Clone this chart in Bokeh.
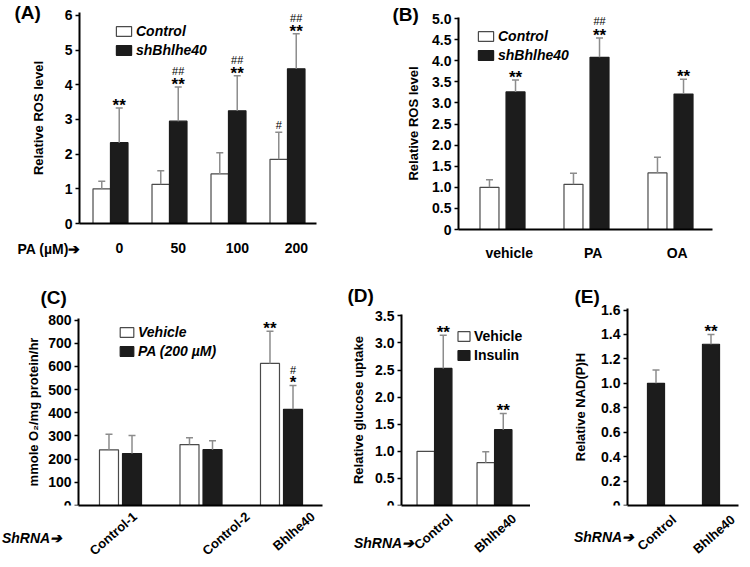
from bokeh.plotting import figure
from bokeh.layouts import column, row
from bokeh.models import (ColumnDataSource, Whisker, TeeHead, LabelSet, Label,
                          Legend, LegendItem, FixedTicker, Range1d, LinearAxis)
from bokeh.core.properties import value
from bokeh.embed import file_html
from bokeh.resources import INLINE

FONT = "Liberation Sans"
WHITE_LINE = "#4a4a4a"
BLACK = "#1c1c1c"
ERR = "#8c8c8c"
ARROW = "\u2794"
EM, EN = "\u2003", "\u2002"

# ---------------- data ----------------
A_doses = ["0", "50", "100", "200"]
A_ctrl = [1.00, 1.13, 1.43, 1.85]
A_ctrl_err = [0.22, 0.39, 0.61, 0.78]
A_sh = [2.33, 2.95, 3.25, 4.46]
A_sh_err = [1.00, 0.99, 1.01, 1.01]
A_ctrl_star = ["", "", "", ""]
A_ctrl_hash = ["", "", "", "#"]
A_sh_star = ["**", "**", "**", "**"]
A_sh_hash = ["", "##", "##", "##"]

B_treat = ["vehicle", "PA", "OA"]
B_ctrl = [1.00, 1.07, 1.34]
B_ctrl_err = [0.18, 0.26, 0.37]
B_sh = [3.26, 4.08, 3.21]
B_sh_err = [0.28, 0.46, 0.35]
B_ctrl_star = ["", "", ""]
B_ctrl_hash = ["", "", ""]
B_sh_star = ["**", "**", "**"]
B_sh_hash = ["", "##", ""]

C_shrna = ["Control-1", "Control-2", "Bhlhe40"]
C_veh = [240, 263, 613]
C_veh_err = [67, 29, 139]
C_pa = [224, 241, 415]
C_pa_err = [78, 38, 103]
C_veh_star = ["", "", "**"]
C_veh_hash = ["", "", ""]
C_pa_star = ["", "", "*"]
C_pa_hash = ["", "", "#"]

D_shrna = ["Control", "Bhlhe40"]
D_veh = [1.00, 0.79]
D_veh_err = [0.0, 0.20]
D_ins = [2.53, 1.40]
D_ins_err = [0.61, 0.30]
D_veh_star = ["", ""]
D_ins_star = ["**", "**"]

E_shrna = ["Control", "Bhlhe40"]
E_val = [1.00, 1.32]
E_err = [0.11, 0.08]
E_star = ["", "**"]


def style_axis(ax, size="14px"):
    ax.axis_line_width = 2
    ax.axis_line_color = "black"
    ax.minor_tick_line_color = None
    ax.major_label_text_font = FONT
    ax.major_label_text_font_style = "bold"
    ax.major_label_text_font_size = size
    ax.major_label_text_color = "black"
    ax.axis_label_text_font = FONT
    ax.axis_label_text_font_style = "bold"
    ax.axis_label_text_font_size = "13px"
    ax.axis_label_text_color = "black"


def make_panel(ox, oy, W, H, axis_px, end_px, g0_px, kx, y0_px, ky, ytop,
               normal_x=False, frame_left=None):
    """Frame covers the canvas (except, optionally, a bottom strip for a normal
    x axis and a small left strip); the y axis is pinned with fixed_location."""
    fl = ox if frame_left is None else frame_left
    xr = ((fl - g0_px) / kx, (ox + W - g0_px) / kx)
    if normal_x:
        yr = (0, (y0_px - oy) / ky)
        fb = y0_px
    else:
        yr = ((y0_px - (oy + H)) / ky, (y0_px - oy) / ky)
        fb = oy + H
    p = figure(width=W, height=H, x_range=Range1d(*xr), y_range=Range1d(*yr),
               output_backend="svg", toolbar_location=None,
               min_border_left=fl - ox, min_border_right=0,
               min_border_top=0, min_border_bottom=oy + H - fb)
    p.outline_line_color = None
    p.xgrid.visible = False
    p.ygrid.visible = False
    p.background_fill_color = "white"
    p.border_fill_color = "white"
    xs = (axis_px - g0_px) / kx
    xe = (end_px - g0_px) / kx
    style_axis(p.xaxis[0])
    style_axis(p.yaxis[0])
    if not normal_x:
        p.xaxis.fixed_location = 0
    p.xaxis.bounds = (xs, xe)
    p.yaxis.fixed_location = xs
    p.yaxis.bounds = (0, ytop)
    p.yaxis.major_tick_out = 4
    p.yaxis.major_tick_in = 0
    p.yaxis.major_tick_line_width = 1.5
    p.yaxis.major_label_standoff = 3
    p.xaxis.major_tick_out = 0
    p.xaxis.major_tick_in = 0
    return p, (fl, fb, g0_px, kx)


def bars(p, xs, vals, errs, width, fill, stars, hashes, star_off=-3, hash_off=(3, 12)):
    line = WHITE_LINE if fill == "white" else BLACK
    src = ColumnDataSource(dict(x=xs, top=vals))
    r = p.vbar(x="x", top="top", bottom=0, width=width, source=src,
               fill_color=fill, line_color=line, line_width=1.2)
    ex = [x for x, e in zip(xs, errs) if e > 0]
    lo = [v for v, e in zip(vals, errs) if e > 0]
    hi = [v + e for v, e in zip(vals, errs) if e > 0]
    if ex:
        wsrc = ColumnDataSource(dict(x=ex, lower=lo, upper=hi))
        w = Whisker(source=wsrc, base="x", lower="lower", upper="upper",
                    line_color=ERR, line_width=1.5, level="overlay",
                    upper_head=TeeHead(size=7, line_color=ERR, line_width=1.5),
                    lower_head=None)
        p.add_layout(w)
    ups = [v + e for v, e in zip(vals, errs)]
    ssrc = ColumnDataSource(dict(x=xs, y=ups, t=stars))
    p.add_layout(LabelSet(x="x", y="y", text="t", source=ssrc, y_offset=star_off,
                          text_align="center", text_baseline="alphabetic",
                          text_font=value(FONT), text_font_style="bold",
                          text_font_size="17px", text_color="black"))
    if hashes is not None:
        hoff = [hash_off[1] if s else hash_off[0] for s in stars]
        hsrc = ColumnDataSource(dict(x=xs, y=ups, t=hashes, o=hoff))
        p.add_layout(LabelSet(x="x", y="y", text="t", source=hsrc, y_offset="o",
                              text_align="center", text_baseline="alphabetic",
                              text_font=value(FONT), text_font_style="normal",
                              text_font_size="11px", text_color="black"))
    return r


def legend(p, geo, items, left_px, top_px, italic=True, gw=19):
    fl, fb = geo[:2]
    item_h, spacing = 17, 3
    bottom_px = top_px + len(items) * item_h + (len(items) - 1) * spacing
    lg = Legend(items=[LegendItem(label=l, renderers=[r]) for l, r in items],
                location=(left_px - fl, fb - bottom_px), orientation="vertical",
                glyph_width=gw, glyph_height=12, label_height=14,
                label_standoff=3, spacing=spacing, padding=0, margin=0,
                border_line_color=None, background_fill_alpha=0,
                label_text_font=FONT,
                label_text_font_style="bold italic" if italic else "bold",
                label_text_font_size="14px", label_text_color="black")
    p.add_layout(lg, "center")


def txt(p, geo, px, py, text, size="19px", style="bold"):
    fl, fb = geo[:2]
    p.add_layout(Label(x=px - fl, y=fb - py, x_units="screen", y_units="screen",
                       text=text, text_font=FONT, text_font_style=style,
                       text_font_size=size, text_align="left",
                       text_baseline="middle", text_color="black"))


def slanted_ticks(p, labels, offsets, standoff):
    ticks = [i + o for i, o in enumerate(offsets)]
    p.xaxis.ticker = FixedTicker(ticks=ticks)
    p.xaxis.major_label_overrides = {t: l for t, l in zip(ticks, labels)}
    p.xaxis.major_label_orientation = 0.72
    p.xaxis.major_label_text_font_size = "13px"
    p.xaxis.major_label_standoff = standoff


def shrna_axis(p, geo, right_px, standoff, pad=""):
    """'ShRNA ->' caption carried by a bare extra axis under the category axis,
    anchored at the frame's left edge."""
    fl, fb, g0, kx = geo
    ax = LinearAxis(ticker=FixedTicker(ticks=[]), axis_line_color=None,
                    major_tick_line_color=None, minor_tick_line_color=None,
                    bounds=((fl - g0) / kx, (right_px - g0) / kx),
                    axis_label=pad + "ShRNA" + ARROW, axis_label_standoff=standoff,
                    axis_label_text_font=FONT, axis_label_text_font_style="bold italic",
                    axis_label_text_font_size="14px", axis_label_text_color="black")
    if "axis_label_align" in LinearAxis.properties():
        try:
            ax.axis_label_align = "start"
        except Exception:
            ax.axis_label_align = "left"
    p.add_layout(ax, "below")


def dec_labels(p, ticks):
    p.yaxis.ticker = FixedTicker(ticks=ticks)
    p.yaxis.major_label_overrides = {t: ("0" if t == 0 else f"{t:.1f}") for t in ticks}


ROW2_Y, ROW2_H = 288, 278

# ---------------- (A) ----------------
pA, gA = make_panel(0, 0, 380, 288, 79, 316, 110, 59.0, 223, 34.67, 6.09)
ia = list(range(len(A_doses)))
rA1 = bars(pA, [i - 0.148 for i in ia], A_ctrl, A_ctrl_err, 0.297, "white", A_ctrl_star, A_ctrl_hash)
rA2 = bars(pA, [i + 0.148 for i in ia], A_sh, A_sh_err, 0.297, BLACK, A_sh_star, A_sh_hash)
pA.yaxis.ticker = FixedTicker(ticks=[0, 1, 2, 3, 4, 5, 6])
pA.yaxis.axis_label = "Relative ROS level"
pA.yaxis.axis_label_standoff = 16
pA.xaxis.ticker = FixedTicker(ticks=[i + 0.15 for i in ia])
pA.xaxis.major_label_overrides = {i + 0.15: d for i, d in zip(ia, A_doses)}
pA.xaxis.major_label_standoff = 19
legend(pA, gA, [("Control", rA1), ("shBhlhe40", rA2)], 114, 21)
txt(pA, gA, 14, 12, "(A)")
txt(pA, gA, 17, 248, "PA (\u00b5M)" + ARROW, size="14px")

# ---------------- (B) ----------------
pB, gB = make_panel(380, 0, 369, 288, 458, 712, 502, 84.0, 229, 42.2, 5.02)
ib = list(range(len(B_treat)))
rB1 = bars(pB, [i - 0.155 for i in ib], B_ctrl, B_ctrl_err, 0.226, "white", B_ctrl_star, B_ctrl_hash)
rB2 = bars(pB, [i + 0.155 for i in ib], B_sh, B_sh_err, 0.226, BLACK, B_sh_star, B_sh_hash,
           hash_off=(3, 13))
dec_labels(pB, [0, 0.5, 1, 1.5, 2, 2.5, 3, 3.5, 4, 4.5, 5])
pB.yaxis.axis_label = "Relative ROS level"
pB.yaxis.axis_label_standoff = 8
pB.xaxis.ticker = FixedTicker(ticks=[i + 0.08 for i in ib])
pB.xaxis.major_label_overrides = {i + 0.08: t for i, t in zip(ib, B_treat)}
pB.xaxis.major_label_standoff = 15
legend(pB, gB, [("Control", rB1), ("shBhlhe40", rB2)], 476, 26)
txt(pB, gB, 392, 14, "(B)")

# ---------------- (C) ----------------
pC, gC = make_panel(0, ROW2_Y, 340, ROW2_H, 78, 322, 120, 80.5, 508, 0.235, 808,
                    normal_x=True)
ic = list(range(len(C_shrna)))
rC1 = bars(pC, [i - 0.143 for i in ic], C_veh, C_veh_err, 0.236, "white", C_veh_star, C_veh_hash)
rC2 = bars(pC, [i + 0.143 for i in ic], C_pa, C_pa_err, 0.236, BLACK, C_pa_star, C_pa_hash,
           hash_off=(3, 11))
pC.yaxis.ticker = FixedTicker(ticks=list(range(0, 801, 100)))
pC.yaxis.axis_label = "mmole O\u2082/mg protein/hr"
pC.yaxis.axis_label_standoff = 4
slanted_ticks(pC, C_shrna, [0.18, 0.58, 0.39], 9)
shrna_axis(pC, gC, 72, -37, pad=EM * 4 + EN)
legend(pC, gC, [("Vehicle", rC1), ("PA (200 \u00b5M)", rC2)], 118, 325, gw=17)
txt(pC, gC, 40, 300, "(C)")

# ---------------- (D) ----------------
pD, gD = make_panel(340, ROW2_Y, 190, ROW2_H, 401, 530, 434, 60.0, 510, 55.43, 3.52,
                    normal_x=True, frame_left=345)
idd = list(range(len(D_shrna)))
rD1 = bars(pD, [i - 0.146 for i in idd], D_veh, D_veh_err, 0.29, "white", D_veh_star, None)
rD2 = bars(pD, [i + 0.146 for i in idd], D_ins, D_ins_err, 0.29, BLACK, D_ins_star, None)
dec_labels(pD, [0, 0.5, 1, 1.5, 2, 2.5, 3, 3.5])
pD.yaxis.axis_label = "Relative glucose uptake"
pD.yaxis.axis_label_standoff = 6
slanted_ticks(pD, D_shrna, [0.27, 0.33], 11)
shrna_axis(pD, gD, 412, -30, pad=EM * 5 + EN)
legend(pD, gD, [("Vehicle", rD1), ("Insulin", rD2)], 456, 331, italic=False, gw=15)
txt(pD, gD, 347, 300, "(D)")

# ---------------- (E) ----------------
pE, gE = make_panel(530, ROW2_Y, 219, ROW2_H, 627, 738, 655.5, 55.0, 509, 124.4, 1.61,
                    normal_x=True, frame_left=572)
ie = list(range(len(E_shrna)))
bars(pE, ie, E_val, E_err, 0.31, BLACK, E_star, None)
dec_labels(pE, [0, 0.2, 0.4, 0.6, 0.8, 1.0, 1.2, 1.4, 1.6])
pE.yaxis.axis_label = "Relative NAD(P)H"
pE.yaxis.axis_label_standoff = 10
slanted_ticks(pE, E_shrna, [0.33, 0.4], 12)
shrna_axis(pE, gE, 643, -37, pad=EM * 4 + EN)
txt(pE, gE, 574, 300, "(E)")

layout = column(row(pA, pB, spacing=0), row(pC, pD, pE, spacing=0), spacing=0)
open("out.html", "w").write(file_html(layout, INLINE))
